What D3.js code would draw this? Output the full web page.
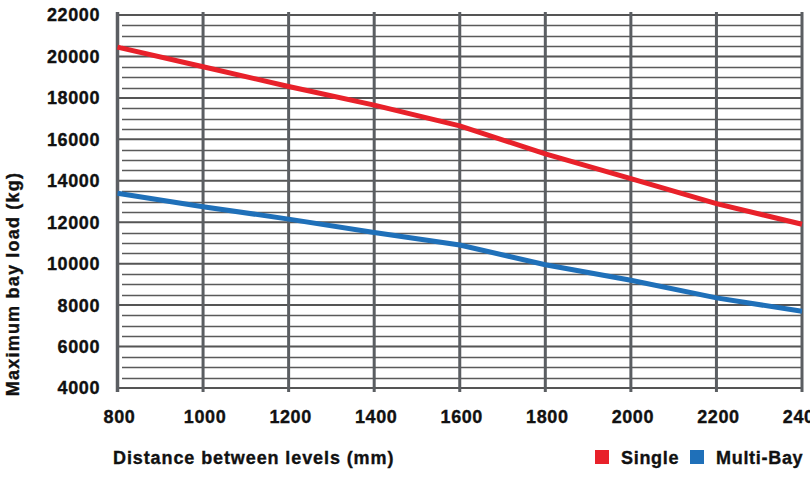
<!DOCTYPE html>
<html>
<head>
<meta charset="utf-8">
<script src="https://cdn.jsdelivr.net/npm/d3@7"></script>
<style>
  body { margin: 0; background: #fff; }
  text { font-family: "Liberation Sans", Arial, Helvetica, sans-serif; font-weight: bold; fill: #111; stroke: #111; stroke-width: 0.35px; }
</style>
</head>
<body>
<div id="chart"></div>
<script>
// values
var distances = [800, 1000, 1200, 1400, 1600, 1800, 2000, 2200, 2400];
var singleLoad = [20450, 19500, 18550, 17650, 16650, 15300, 14100, 12900, 11900];
var multiBayLoad = [13400, 12750, 12150, 11500, 10900, 9950, 9200, 8350, 7700];
var yTicks = [4000, 6000, 8000, 10000, 12000, 14000, 16000, 18000, 20000, 22000];
var seriesNames = ["Single", "Multi-Bay"];
var seriesColors = ["#e8212a", "#1f70b9"];

var width = 810,
    height = 477;

var x = d3.scaleLinear()
    .domain([800, 2400])
    .range([117.5, 802]);

var y = d3.scaleLinear()
    .domain([4000, 22000])
    .range([388, 15]);

var svg = d3.select("#chart").append("svg")
    .attr("width", width)
    .attr("height", height);

// minor horizontal grid every 500
var minor = d3.range(4500, 22000, 500).filter(function(d) { return d % 2000 != 0; });
svg.append("g").selectAll("line")
    .data(minor)
  .enter().append("line")
    .attr("x1", 122)
    .attr("x2", x(2400))
    .attr("y1", function(d) { return Math.round(y(d)) + 0.5; })
    .attr("y2", function(d) { return Math.round(y(d)) + 0.5; })
    .attr("stroke", "#5a5a5a")
    .attr("stroke-width", 1.3);

// major horizontal grid
svg.append("g").selectAll("line")
    .data(yTicks)
  .enter().append("line")
    .attr("x1", x(800))
    .attr("x2", x(2400))
    .attr("y1", function(d) { return y(d); })
    .attr("y2", function(d) { return y(d); })
    .attr("stroke", "#555")
    .attr("stroke-width", 2);

// vertical grid
svg.append("g").selectAll("line")
    .data(distances)
  .enter().append("line")
    .attr("x1", function(d) { return x(d); })
    .attr("x2", function(d) { return x(d); })
    .attr("y1", 12)
    .attr("y2", 392)
    .attr("stroke", "#5b5e62")
    .attr("stroke-width", function(d) { return d == 800 ? 3.5 : 3; });

// y tick labels
svg.append("g").selectAll("text")
    .data(yTicks)
  .enter().append("text")
    .attr("x", 100)
    .attr("y", function(d) { return y(d); })
    .attr("dy", "0.36em")
    .attr("text-anchor", "end")
    .style("font-size", "18px")
    .style("letter-spacing", "0.6px")
    .text(function(d) { return d; });

// x tick labels (the last one runs off the right edge, as in the original)
svg.append("g").selectAll("text")
    .data(distances)
  .enter().append("text")
    .attr("x", function(d) { return x(d) + 2; })
    .attr("y", 423)
    .attr("text-anchor", "middle")
    .style("font-size", "18px")
    .style("letter-spacing", "0.6px")
    .text(function(d) { return d; });

// axis titles
svg.append("text")
    .attr("x", 113)
    .attr("y", 464)
    .style("font-size", "18px")
    .style("letter-spacing", "0.9px")
    .text("Distance between levels (mm)");

svg.append("text")
    .attr("transform", "translate(19,284) rotate(-90)")
    .attr("text-anchor", "middle")
    .style("font-size", "18px")
    .style("letter-spacing", "1.2px")
    .text("Maximum bay load (kg)");

// lines
var line = d3.line()
    .x(function(d, i) { return x(distances[i]); })
    .y(function(d) { return y(d); });

[singleLoad, multiBayLoad].forEach(function(values, i) {
  svg.append("path")
      .datum(values)
      .attr("d", line)
      .attr("fill", "none")
      .attr("stroke", seriesColors[i])
      .attr("stroke-width", 5);
});

// legend
var legendX = [595, 690];
var legend = svg.append("g").selectAll("g")
    .data(seriesNames)
  .enter().append("g")
    .attr("transform", function(d, i) { return "translate(" + legendX[i] + ",450)"; });

legend.append("rect")
    .attr("width", 14)
    .attr("height", 14)
    .style("fill", function(d, i) { return seriesColors[i]; });

legend.append("text")
    .attr("x", 26)
    .attr("y", 14)
    .style("font-size", "18px")
    .style("letter-spacing", "0.7px")
    .text(function(d) { return d; });
</script>
</body>
</html>
